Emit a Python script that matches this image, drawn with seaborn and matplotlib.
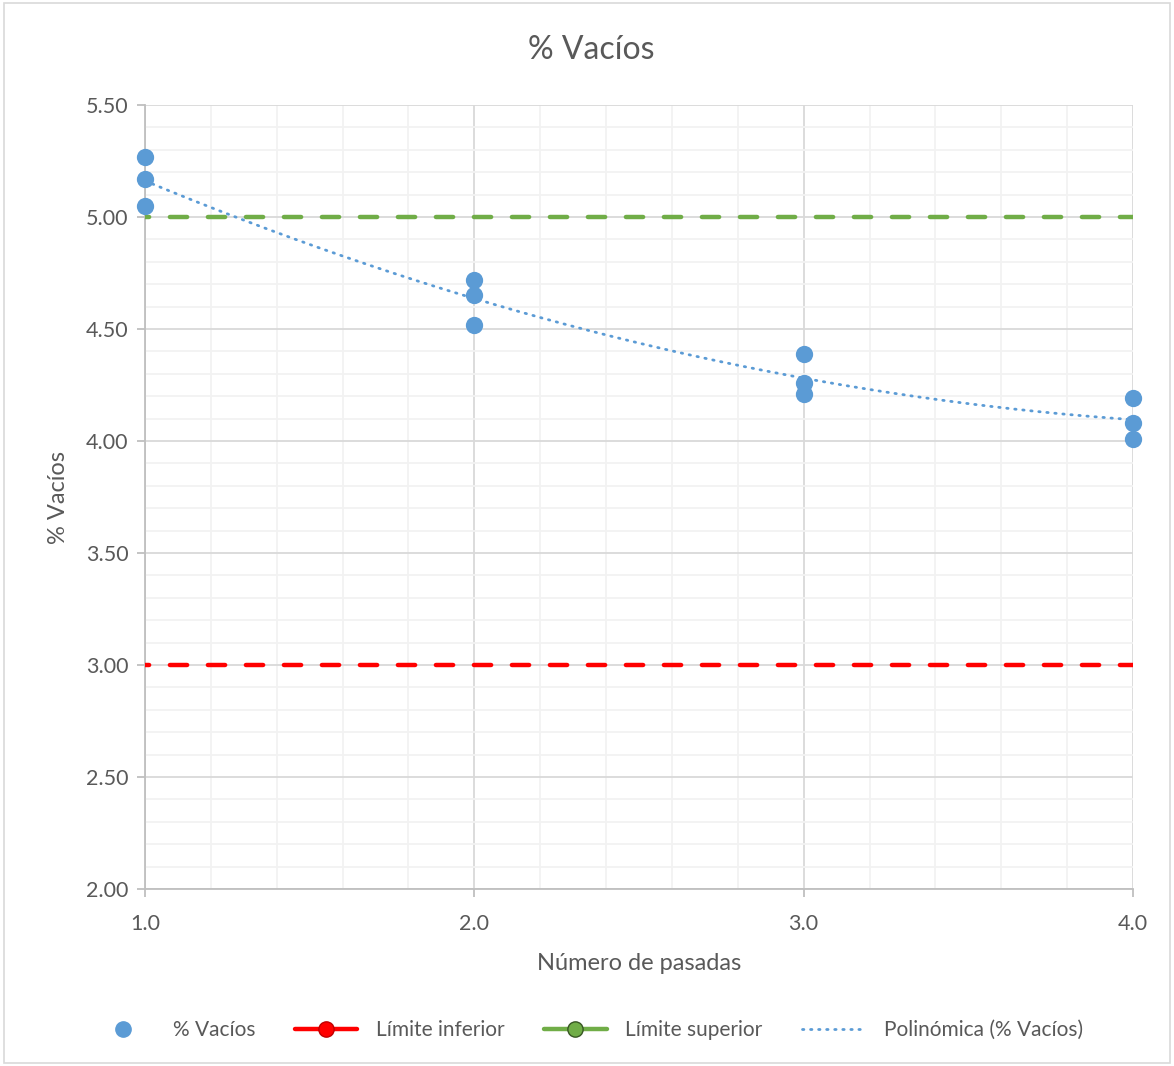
import numpy as np
import pandas as pd
import matplotlib
matplotlib.use("Agg")
import matplotlib.pyplot as plt
from matplotlib.lines import Line2D
from matplotlib.ticker import MultipleLocator, FormatStrFormatter
import seaborn as sns

# ---- data ----
pasadas = [1, 1, 1, 2, 2, 2, 3, 3, 3, 4, 4, 4]
vacios = [5.27, 5.17, 5.05, 4.72, 4.65, 4.52, 4.39, 4.26, 4.21, 4.19, 4.08, 4.01]
limite_inferior = [3.0, 3.0]
limite_superior = [5.0, 5.0]
limite_x = [1, 4]

sns.set_theme(style="white")
plt.rcParams['font.family'] = ['Lato', 'DejaVu Sans']

TXT = "#595959"
BLUE = "#5B9BD5"
RED = "#FF0000"
GREEN = "#70AD47"

fig = plt.figure(figsize=(11.74, 10.66), dpi=100)
ax = fig.add_axes([145/1174, 1-889/1066, (1133-145)/1174, (889-105)/1066])

df = pd.DataFrame({"Número de pasadas": pasadas, "% Vacíos": vacios})

# limit lines
LW = 3.2
lim_df = pd.DataFrame({"x": limite_x, "inf": limite_inferior, "sup": limite_superior})
sns.lineplot(data=lim_df, x="x", y="inf", ax=ax, color=RED, lw=LW,
             dashes=False, zorder=3)
sns.lineplot(data=lim_df, x="x", y="sup", ax=ax, color=GREEN, lw=LW,
             dashes=False, zorder=3)
for ln in ax.lines[-2:]:
    ln.set_linestyle((2.95, (3.88, 4.67)))
    ln.set_dash_capstyle("round")

# polynomial trend (order 2) of the data
coef = np.polyfit(pasadas, vacios, 2)
xs = np.linspace(1, 4, 200)
trend_df = pd.DataFrame({"x": xs, "y": np.polyval(coef, xs)})
sns.lineplot(data=trend_df, x="x", y="y", ax=ax, color=BLUE, lw=2.0, zorder=4)
ax.lines[-1].set_dashes((0.5, 2.4))
ax.lines[-1].set_dash_capstyle("round")

sns.scatterplot(data=df, x="Número de pasadas", y="% Vacíos", ax=ax,
                color=BLUE, s=155, edgecolor=BLUE, linewidth=0, zorder=5,
                clip_on=False)

ax.set_xlim(1, 4)
ax.set_ylim(2.0, 5.5)
ax.xaxis.set_major_locator(MultipleLocator(1))
ax.xaxis.set_minor_locator(MultipleLocator(0.2))
ax.yaxis.set_major_locator(MultipleLocator(0.5))
ax.yaxis.set_minor_locator(MultipleLocator(0.1))
ax.xaxis.set_major_formatter(FormatStrFormatter("%.1f"))
ax.yaxis.set_major_formatter(FormatStrFormatter("%.2f"))

ax.grid(which="major", color="#D9D9D9", lw=1.3)
ax.grid(which="minor", color="#F2F2F2", lw=1.3)
ax.set_axisbelow(True)

for s in ["top", "right"]:
    ax.spines[s].set_visible(False)
for s in ["left", "bottom"]:
    ax.spines[s].set_color("#BFBFBF")
    ax.spines[s].set_linewidth(1.3)

ax.tick_params(axis="both", which="major", labelsize=15.5, labelcolor=TXT,
               color="#BFBFBF", length=6, width=1.3, direction="out")
ax.tick_params(axis="y", which="major", left=True, pad=6)
ax.tick_params(axis="x", which="major", bottom=True, pad=12)
ax.tick_params(which="minor", length=0)

ax.set_xlabel("Número de pasadas", fontsize=17, color=TXT, labelpad=14)
ax.set_ylabel("% Vacíos", fontsize=17, color=TXT, labelpad=12)
fig.text(0.504, 1-50/1066, "% Vacíos", ha="center", va="center",
         fontsize=23, color=TXT)

handles = [
    Line2D([], [], ls="none", marker="o", ms=11, color=BLUE),
    Line2D([], [], color=RED, lw=LW, marker="o", ms=11,
           markerfacecolor=RED, markeredgecolor="#C00000", solid_capstyle="round"),
    Line2D([], [], color=GREEN, lw=LW, marker="o", ms=11,
           markerfacecolor=GREEN, markeredgecolor="#375623", solid_capstyle="round"),
    Line2D([], [], color=BLUE, lw=2.0, ls=(0, (0.5, 2.4)), dash_capstyle="round"),
]
labels = ["% Vacíos", "Límite inferior", "Límite superior", "Polinómica (% Vacíos)"]
leg = fig.legend(handles, labels, loc="center", bbox_to_anchor=(0.500, 1-1030/1066),
                 ncol=4, frameon=False, fontsize=15, handlelength=3.0,
                 columnspacing=1.9, handletextpad=0.9)
for t in leg.get_texts():
    t.set_color(TXT)

# outer chart border
fig.add_artist(plt.Rectangle((0.003, 0.003), 0.994, 0.994, transform=fig.transFigure,
                             fill=False, edgecolor="#D9D9D9", lw=1.2))

fig.savefig("out.png", dpi=100)
